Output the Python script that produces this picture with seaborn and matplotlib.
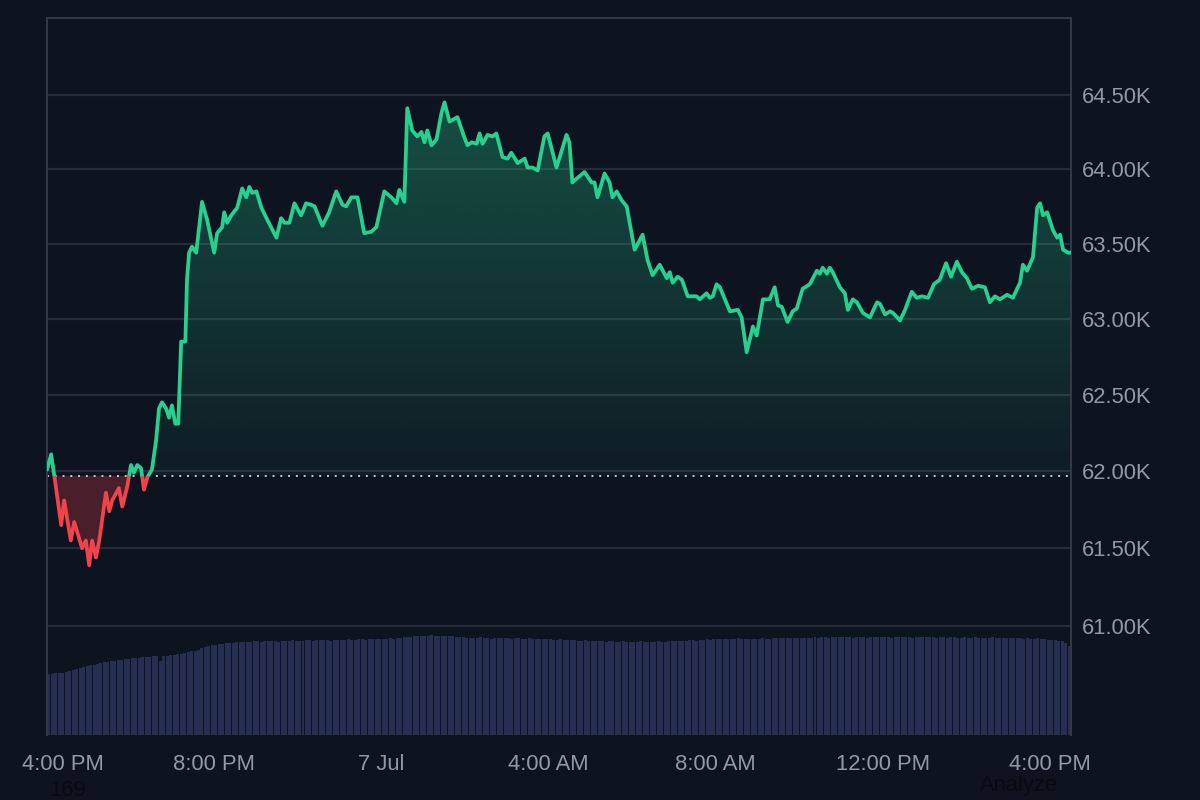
import numpy as np
import matplotlib
matplotlib.use("Agg")
import matplotlib.pyplot as plt
import matplotlib.transforms as mtransforms
from matplotlib.patches import Rectangle
from matplotlib.path import Path
from matplotlib.ticker import NullLocator
import seaborn as sns

# ---------------- data ----------------
# hours since 4:00 PM (6 Jul)
hours = [0.00, 0.10, 0.17, 0.34, 0.41, 0.57, 0.65, 0.84, 0.93, 1.01, 1.08, 1.17, 1.25, 1.41, 1.49, 1.56,
         1.72, 1.80, 1.92, 2.01, 2.08, 2.16, 2.25, 2.32, 2.40, 2.51, 2.61, 2.68, 2.75, 2.85, 2.92, 2.99,
         3.07, 3.14, 3.21, 3.31, 3.35, 3.40, 3.47, 3.57, 3.71, 3.83, 4.00, 4.07, 4.19, 4.24, 4.31, 4.41,
         4.55, 4.67, 4.77, 4.84, 4.91, 5.01, 5.13, 5.27, 5.49, 5.60, 5.68, 5.80, 5.92, 6.08, 6.20, 6.32,
         6.40, 6.59, 6.75, 6.92, 7.07, 7.16, 7.28, 7.43, 7.59, 7.76, 7.88, 8.07, 8.24, 8.36, 8.43, 8.55,
         8.62, 8.74, 8.86, 8.96, 9.03, 9.10, 9.20, 9.32, 9.44, 9.51, 9.63, 9.82, 9.99, 10.06, 10.16, 10.28,
         10.35, 10.42, 10.54, 10.66, 10.75, 10.90, 11.02, 11.11, 11.26, 11.43, 11.50, 11.62, 11.74, 11.90, 11.98, 12.19,
         12.43, 12.50, 12.57, 12.69, 12.86, 13.03, 13.10, 13.17, 13.34, 13.46, 13.53, 13.63, 13.75, 13.87, 13.94, 14.06,
         14.25, 14.37, 14.49, 14.66, 14.83, 14.90, 14.97, 15.09, 15.19, 15.33, 15.54, 15.62, 15.78, 15.86, 15.93, 16.02,
         16.10, 16.34, 16.53, 16.62, 16.74, 16.89, 16.98, 17.13, 17.29, 17.41, 17.49, 17.58, 17.72, 17.84, 17.94, 18.08,
         18.25, 18.42, 18.49, 18.56, 18.66, 18.73, 18.80, 18.97, 19.09, 19.16, 19.28, 19.38, 19.52, 19.69, 19.86, 19.93,
         20.05, 20.17, 20.24, 20.41, 20.53, 20.69, 20.81, 20.93, 21.08, 21.22, 21.36, 21.51, 21.63, 21.77, 21.89, 22.01,
         22.13, 22.28, 22.44, 22.56, 22.68, 22.80, 22.97, 23.11, 23.28, 23.35, 23.45, 23.59, 23.69, 23.76, 23.83, 23.93,
         24.07, 24.17, 24.24, 24.31, 24.43, 24.50]

# price in thousands of USD
prices = [62.01, 62.11, 61.98, 61.65, 61.81, 61.55, 61.67, 61.50, 61.55, 61.39, 61.55, 61.44, 61.55, 61.86, 61.74, 61.81,
          61.89, 61.77, 61.90, 62.04, 61.99, 62.04, 62.02, 61.88, 61.96, 62.01, 62.20, 62.41, 62.45, 62.41, 62.35, 62.43,
          62.31, 62.31, 62.85, 62.85, 63.26, 63.44, 63.48, 63.44, 63.78, 63.66, 63.44, 63.57, 63.61, 63.71, 63.64, 63.69,
          63.74, 63.87, 63.81, 63.88, 63.84, 63.85, 63.74, 63.66, 63.54, 63.67, 63.64, 63.64, 63.77, 63.69, 63.77, 63.76,
          63.75, 63.62, 63.71, 63.85, 63.76, 63.75, 63.81, 63.81, 63.57, 63.58, 63.61, 63.85, 63.81, 63.77, 63.86, 63.78,
          64.41, 64.26, 64.22, 64.25, 64.18, 64.26, 64.16, 64.20, 64.38, 64.45, 64.32, 64.35, 64.21, 64.16, 64.18, 64.17,
          64.24, 64.17, 64.23, 64.22, 64.24, 64.08, 64.07, 64.11, 64.04, 64.07, 64.01, 64.01, 63.99, 64.22, 64.24, 64.01,
          64.23, 64.18, 63.91, 63.94, 63.98, 63.91, 63.91, 63.81, 63.97, 63.91, 63.81, 63.85, 63.79, 63.75, 63.64, 63.46,
          63.56, 63.39, 63.29, 63.36, 63.27, 63.31, 63.24, 63.28, 63.26, 63.15, 63.15, 63.13, 63.17, 63.14, 63.15, 63.23,
          63.21, 63.05, 63.06, 63.01, 62.78, 62.95, 62.89, 63.13, 63.13, 63.21, 63.09, 63.08, 62.98, 63.05, 63.07, 63.20,
          63.23, 63.32, 63.30, 63.34, 63.30, 63.34, 63.31, 63.21, 63.17, 63.06, 63.13, 63.11, 63.04, 63.01, 63.11, 63.10,
          63.03, 63.05, 63.04, 62.99, 63.06, 63.18, 63.14, 63.15, 63.14, 63.23, 63.26, 63.37, 63.28, 63.38, 63.31, 63.27,
          63.20, 63.22, 63.21, 63.11, 63.15, 63.13, 63.16, 63.14, 63.24, 63.36, 63.32, 63.41, 63.74, 63.77, 63.69, 63.71,
          63.59, 63.54, 63.56, 63.46, 63.44, 63.44]

baseline = 61.97  # opening price (K)

# 5-minute volume bars (relative units)
volume = [62, 62, 63, 63, 63, 64, 65, 66, 67, 68, 69, 70,
          71, 71, 72, 73, 74, 74, 75, 75, 76, 76, 77, 77,
          78, 78, 78, 79, 79, 79, 80, 80, 75, 80, 80, 81,
          81, 82, 82, 83, 84, 85, 85, 86, 88, 89, 90, 91,
          91, 92, 92, 93, 93, 93, 94, 94, 94, 94, 94, 95,
          95, 94, 95, 95, 95, 95, 94, 95, 95, 95, 96, 95,
          95, 95, 96, 96, 95, 96, 96, 96, 96, 95, 96, 96,
          96, 96, 97, 96, 96, 97, 97, 96, 97, 97, 97, 97,
          97, 97, 98, 97, 98, 98, 99, 99, 99, 100, 100, 100,
          100, 100, 101, 100, 100, 100, 100, 100, 100, 99, 99, 99,
          98, 98, 98, 98, 99, 98, 98, 97, 98, 98, 98, 98,
          98, 97, 98, 98, 97, 97, 98, 97, 97, 97, 97, 97,
          97, 96, 96, 97, 96, 96, 96, 96, 95, 95, 96, 95,
          95, 95, 95, 95, 94, 95, 95, 94, 94, 95, 94, 94,
          94, 94, 95, 94, 94, 94, 94, 95, 94, 94, 95, 95,
          95, 95, 95, 95, 96, 96, 95, 96, 96, 97, 96, 97,
          97, 97, 97, 97, 97, 97, 98, 97, 97, 97, 97, 97,
          97, 98, 97, 97, 98, 98, 98, 98, 98, 98, 98, 98,
          98, 98, 98, 98, 99, 98, 99, 99, 98, 99, 99, 99,
          99, 99, 99, 98, 99, 99, 99, 98, 99, 99, 99, 99,
          99, 99, 98, 99, 99, 99, 99, 99, 98, 99, 99, 99,
          99, 99, 99, 98, 99, 99, 98, 99, 99, 98, 98, 99,
          98, 98, 99, 98, 98, 98, 98, 99, 98, 98, 98, 98,
          98, 98, 98, 98, 97, 98, 97, 97, 98, 97, 97, 96,
          96, 96, 95, 95, 93, 90]

x_ticks = [0, 4, 8, 12, 16, 20, 24]
x_labels = ["4:00 PM", "8:00 PM", "7 Jul", "4:00 AM", "8:00 AM", "12:00 PM", "4:00 PM"]
y_ticks = [61.0, 61.5, 62.0, 62.5, 63.0, 63.5, 64.0, 64.5]
y_labels = ["61.00K", "61.50K", "62.00K", "62.50K", "63.00K", "63.50K", "64.00K", "64.50K"]

# ---------------- style ----------------
BG = "#0e1320"
GRID = "#262c39"
SPINE = "#343a47"
TXT = "#9299a6"
GREEN = "#27d08e"
RED = "#f0434c"

sns.set_theme(style="dark", rc={"axes.facecolor": BG, "figure.facecolor": BG})
plt.rcParams["font.family"] = ["Liberation Sans", "DejaVu Sans"]

fig = plt.figure(figsize=(12, 8), dpi=100, facecolor=BG)
ax = fig.add_axes([47 / 1200, 65 / 800, 1024 / 1200, 717 / 800])
ax.set_facecolor(BG)

ax.set_yscale("log")
ax.set_xlim(0, 24.5)
ax.set_ylim(60.305, 65.024)

hours_a = np.array(hours)
prices_a = np.array(prices)

# fraction of axes height where baseline sits
base_ax = ax.transAxes.inverted().transform(ax.transData.transform((0, baseline)))[1]

# grid lines
for t in y_ticks:
    ax.axhline(t, color=GRID, lw=1.6, zorder=0.5)

# volume on twin axis
ax2 = ax.twinx()
ax2.set_ylim(0, max(volume) * 7.17)
vol_x = (np.arange(len(volume)) + 0.5) * (5 / 60)
ax2.bar(vol_x, volume, width=(5 / 60) * 0.86, color="#262f51", linewidth=0, zorder=1)
ax2.set_yticks([])
for s in ax2.spines.values():
    s.set_visible(False)
ax2.set_xlim(0, 24.5)

# fill polygon (between price and baseline) used for clipping the gradient
fb = ax.fill_between(hours_a, prices_a, baseline, facecolor="none", edgecolor="none", linewidth=0)
clip_path = Path.make_compound_path(*fb.get_paths())

# green gradient above baseline
n = 256
alpha = np.linspace(0.05, 0.38, n)[:, None]
rgb = np.array(matplotlib.colors.to_rgb(GREEN))
grad = np.zeros((n, 1, 4))
grad[..., :3] = rgb
grad[..., 3] = alpha
im = ax.imshow(grad, extent=(0, 1, base_ax, 1), transform=ax.transAxes, origin="lower",
               aspect="auto", interpolation="bilinear", zorder=1)
im.set_clip_path(clip_path, ax.transData)

# red fill below baseline
ax.fill_between(hours_a, prices_a, baseline, where=prices_a < baseline, interpolate=True,
                color=RED, alpha=0.26, linewidth=0, zorder=1)

# baseline dotted
ax.axhline(baseline, color="#c5c9d2", lw=1.4, linestyle=(0, (1, 3)), zorder=2)

# price line: green above baseline, red below
sns.lineplot(x=hours, y=prices, ax=ax, color=GREEN, linewidth=2.7, zorder=3)
line_g = ax.lines[-1]
line_g.set_solid_joinstyle("round")
rect_up = Rectangle((0, base_ax), 1, 1 - base_ax, transform=ax.transAxes)
line_g.set_clip_path(rect_up)

sns.lineplot(x=hours, y=prices, ax=ax, color=RED, linewidth=2.7, zorder=3)
line_r = ax.lines[-1]
line_r.set_solid_joinstyle("round")
rect_dn = Rectangle((0, 0), 1, base_ax, transform=ax.transAxes)
line_r.set_clip_path(rect_dn)

ax.set_xlim(0, 24.5)
ax.set_ylim(60.305, 65.024)

# axes / ticks
ax.yaxis.tick_right()
ax.set_yticks(y_ticks)
ax.set_yticklabels(y_labels)
ax.yaxis.set_minor_locator(NullLocator())
ax.set_xticks(x_ticks)
ax.set_xticklabels(x_labels)
ax.tick_params(axis="x", length=0, pad=13.5, labelsize=15.8, labelcolor=TXT)
ax.tick_params(axis="y", length=0, pad=8, labelsize=15.8, labelcolor=TXT, which="both")
ax.set_xlabel("")
ax.set_ylabel("")
ax.grid(False)

first = ax.get_xticklabels()[0]
first.set_transform(first.get_transform() + mtransforms.ScaledTranslation(0.16, 0, fig.dpi_scale_trans))

for side in ["top", "right", "left"]:
    ax.spines[side].set_visible(True)
    ax.spines[side].set_color(SPINE)
    ax.spines[side].set_linewidth(1.4)
ax.spines["bottom"].set_visible(False)

ax.set_zorder(2)
ax2.set_zorder(1)
ax.patch.set_visible(False)
fig.patch.set_facecolor(BG)
bg_ax = fig.add_axes(ax.get_position(), zorder=0)
bg_ax.set_facecolor(BG)
bg_ax.set_xticks([])
bg_ax.set_yticks([])
for s in bg_ax.spines.values():
    s.set_visible(False)

# faint texts
fig.text(68 / 1200, 1 - 790 / 800, "169", color="#070a10", fontsize=15.8, ha="center", va="center")
fig.text(1019 / 1200, 1 - 786 / 800, "Analyze", color="#070a10", fontsize=15.8, ha="center", va="center")

fig.savefig("out.png", dpi=100, facecolor=BG)
